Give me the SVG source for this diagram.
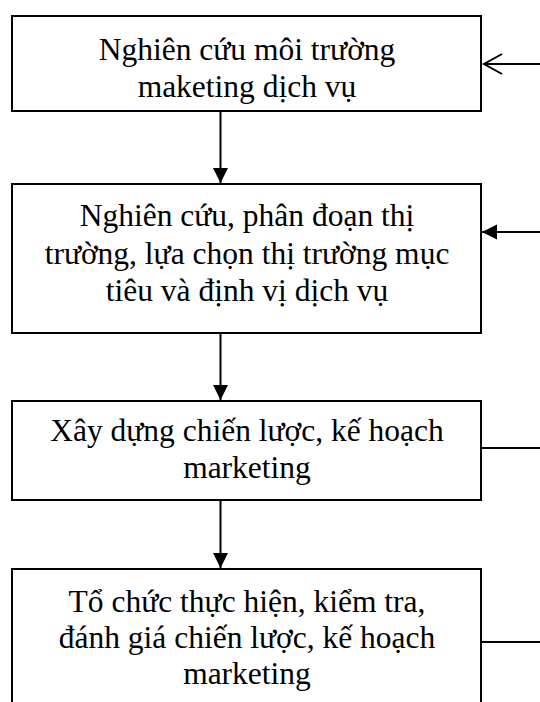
<svg xmlns="http://www.w3.org/2000/svg" width="540" height="702" viewBox="0 0 540 702">
<style>
.box{fill:#fff;stroke:#000;stroke-width:2}
.t{font-family:"Liberation Serif","Times New Roman",serif;font-size:31.5px;fill:#000;text-anchor:middle}
.c{stroke:#000;stroke-width:2;fill:none}
</style>
<defs>
<marker id="ah" markerUnits="userSpaceOnUse" markerWidth="16" markerHeight="16" refX="15" refY="8" orient="auto">
<path d="M0,0.5 L15,8 L0,15.5 Z" fill="#000"/>
</marker>
<marker id="open" markerUnits="userSpaceOnUse" markerWidth="22" markerHeight="24" refX="20" refY="12" orient="auto">
<path d="M2,2 L20,12 L2,22" fill="none" stroke="#000" stroke-width="2"/>
</marker>
</defs>
<rect width="540" height="702" fill="#fff"/>
<g id="n1">
<rect class="box" x="12" y="16" width="469" height="95"/>
<text class="t" x="247" y="60">Nghiên cứu môi trường</text>
<text class="t" x="247" y="97">maketing dịch vụ</text>
</g>
<g id="n2">
<rect class="box" x="12" y="184" width="469" height="149"/>
<text class="t" x="247" y="226">Nghiên cứu, phân đoạn thị</text>
<text class="t" x="247" y="264">trường, lựa chọn thị trường mục</text>
<text class="t" x="247" y="301">tiêu và định vị dịch vụ</text>
</g>
<g id="n3">
<rect class="box" x="12" y="401" width="469" height="99"/>
<text class="t" x="247" y="441">Xây dựng chiến lược, kế hoạch</text>
<text class="t" x="247" y="478">marketing</text>
</g>
<g id="n4">
<path class="box" d="M12,710 L12,569 L481,569 L481,710"/>
<text class="t" x="247" y="612">Tổ chức thực hiện, kiểm tra,</text>
<text class="t" x="247" y="648">đánh giá chiến lược, kế hoạch</text>
<text class="t" x="247" y="684">marketing</text>
</g>
<g id="connectors">
<line class="c" x1="220.5" y1="111" x2="220.5" y2="183" marker-end="url(#ah)"/>
<line class="c" x1="220.5" y1="333" x2="220.5" y2="400" marker-end="url(#ah)"/>
<line class="c" x1="220.5" y1="500" x2="220.5" y2="568" marker-end="url(#ah)"/>
<line class="c" x1="541" y1="64" x2="484" y2="64" marker-end="url(#open)"/>
<line class="c" x1="541" y1="232" x2="482" y2="232" marker-end="url(#ah)"/>
<line class="c" x1="481" y1="448" x2="541" y2="448"/>
<line class="c" x1="481" y1="642" x2="541" y2="642"/>
</g>
</svg>
